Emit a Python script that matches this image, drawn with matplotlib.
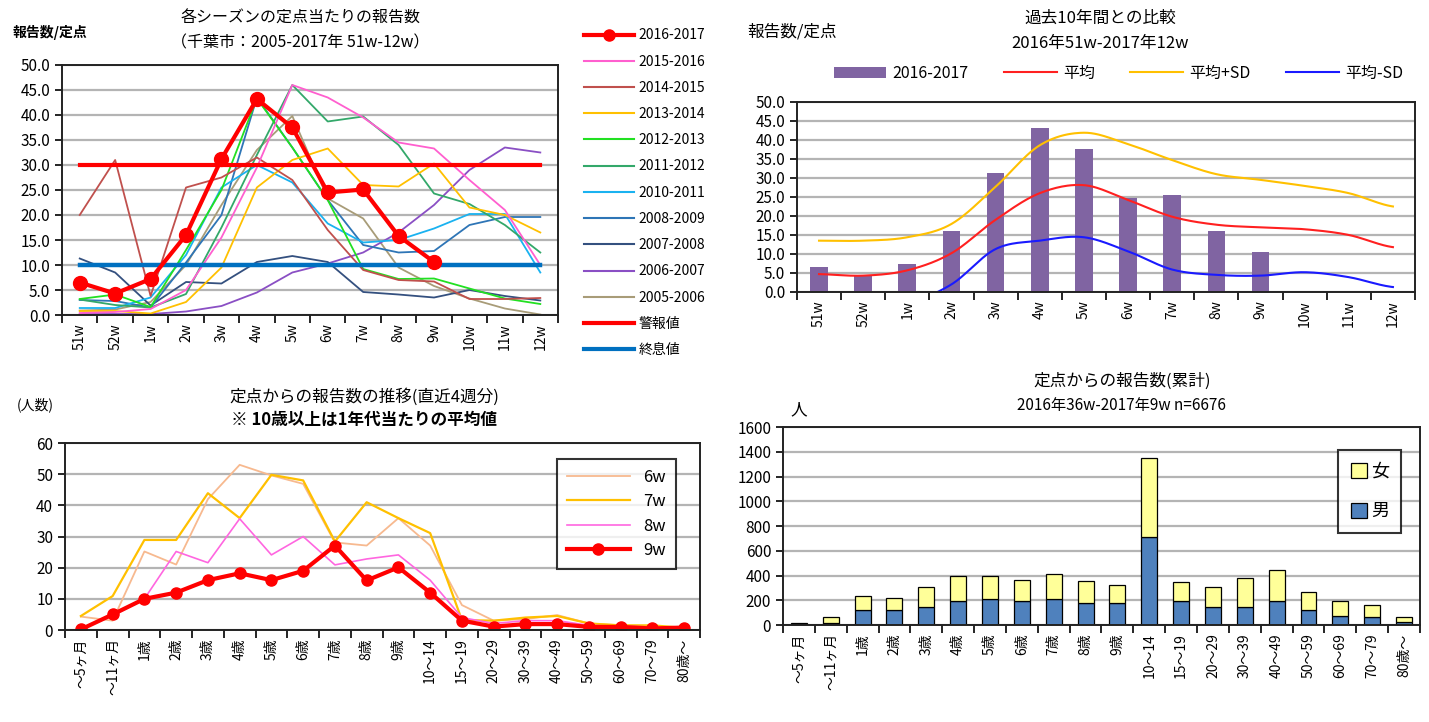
import numpy as np
import matplotlib
matplotlib.use('Agg')
import matplotlib.pyplot as plt
from matplotlib.lines import Line2D
from matplotlib.patches import Patch

plt.rcParams['font.family'] = ['Noto Sans CJK JP', 'DejaVu Sans']

weeks = ['51w', '52w', '1w', '2w', '3w', '4w', '5w', '6w', '7w', '8w', '9w', '10w', '11w', '12w']
nan = np.nan

# seasons (top left)
s2016 = [6.5, 4.3, 7.2, 16.0, 31.2, 43.2, 37.5, 24.5, 25.1, 15.8, 10.6, nan, nan, nan]
s2015 = [0.4, 0.6, 1.2, 5.0, 15.5, 29.5, 46.0, 43.5, 39.5, 34.5, 33.3, 27.0, 21.0, 10.0]
s2014 = [20.0, 31.0, 3.8, 25.5, 27.5, 31.5, 27.0, 17.0, 9.0, 7.0, 6.7, 3.2, 3.2, 3.4]
s2013 = [0.8, 0.8, 0.3, 2.6, 9.5, 25.5, 31.0, 33.3, 26.0, 25.7, 30.3, 21.5, 20.0, 16.5]
s2012 = [3.2, 4.1, 1.6, 13.0, 25.0, 43.3, 33.5, 23.0, 9.2, 7.2, 7.3, 5.3, 3.3, 2.2]
s2011 = [3.1, 2.0, 1.5, 4.2, 17.5, 32.0, 46.0, 38.7, 39.7, 34.0, 24.3, 22.2, 18.0, 12.5]
s2010 = [1.4, 1.4, 3.5, 12.0, 25.5, 30.0, 26.5, 18.3, 14.5, 15.0, 17.3, 20.2, 20.2, 8.5]
s2008 = [3.0, 2.8, 1.5, 10.5, 20.0, 43.5, 33.5, 23.0, 14.0, 12.5, 12.8, 18.0, 19.6, 19.6]
s2007 = [11.3, 8.5, 1.9, 6.6, 6.3, 10.6, 11.8, 10.6, 4.6, 4.1, 3.5, 5.0, 3.8, 2.9]
s2006 = [0.2, 0.2, 0.2, 0.7, 1.8, 4.5, 8.5, 10.3, 12.5, 16.5, 22.0, 29.0, 33.5, 32.5]
s2005 = [0.9, 1.1, 2.6, 10.0, 22.0, 33.0, 39.8, 23.3, 19.3, 9.5, 5.8, 3.3, 1.3, 0.1]
alarm_level = 30.0
end_level = 10.0

# comparison with past 10 years (top right)
bar2016 = [6.7, 4.3, 7.3, 16.0, 31.3, 43.2, 37.5, 24.6, 25.5, 16.0, 10.6, nan, nan, nan]
mean10 = [4.7, 4.3, 5.7, 10.2, 19.0, 26.0, 28.1, 24.2, 19.8, 17.7, 17.0, 16.5, 15.0, 11.8]
mean_plus = [13.5, 13.5, 14.4, 17.9, 27.7, 38.6, 41.9, 38.9, 34.7, 31.0, 29.5, 27.9, 26.0, 22.5]
mean_minus = [-4.0, -4.8, -3.0, 2.0, 11.3, 13.5, 14.4, 10.7, 5.9, 4.5, 4.3, 5.2, 3.9, 1.3]

# by age, last 4 weeks (bottom left)
ages = ['～5ヶ月', '～11ヶ月', '1歳', '2歳', '3歳', '4歳', '5歳', '6歳', '7歳', '8歳', '9歳',
        '10～14', '15～19', '20～29', '30～39', '40～49', '50～59', '60～69', '70～79', '80歳～']
w6 = [4.3, 3.0, 25.2, 21.0, 42.0, 53.0, 49.6, 46.9, 28.1, 27.1, 35.9, 27.1, 8.0, 3.0, 3.5, 4.8, 2.1, 1.5, 1.2, 0.7]
w7 = [4.5, 10.9, 28.9, 28.9, 43.9, 35.9, 49.8, 48.0, 28.4, 41.0, 35.9, 31.1, 3.2, 3.0, 4.0, 4.5, 2.1, 1.5, 1.5, 0.7]
w8 = [0.5, 4.5, 10.0, 25.2, 21.6, 35.7, 24.1, 30.0, 20.9, 22.8, 24.1, 16.0, 4.0, 2.1, 3.0, 3.0, 1.5, 1.2, 1.0, 0.7]
w9 = [0.2, 5.0, 10.0, 12.0, 16.0, 18.2, 16.0, 19.0, 27.1, 15.9, 20.1, 12.0, 3.0, 1.1, 1.9, 1.9, 1.0, 1.0, 0.5, 0.8]

# cumulative by sex (bottom right)
male = [10, 20, 121, 121, 148, 191, 207, 194, 207, 177, 177, 715, 194, 148, 148, 194, 121, 75, 62, 27]
total = [14, 62, 237, 220, 309, 398, 398, 368, 414, 355, 325, 1350, 344, 309, 384, 444, 269, 194, 164, 62]
female = [t - m for t, m in zip(total, male)]


def smooth(y, n=24):
    # Catmull-Rom curve through the points (like Excel smoothed lines)
    y = np.asarray(y, dtype=float)
    p = np.concatenate([[y[0]], y, [y[-1]]])
    xs, ys = [], []
    t = np.linspace(0, 1, n, endpoint=False)
    for i in range(len(y) - 1):
        p0, p1, p2, p3 = p[i], p[i + 1], p[i + 2], p[i + 3]
        ys.append(0.5 * (2 * p1 + (-p0 + p2) * t + (2 * p0 - 5 * p1 + 4 * p2 - p3) * t ** 2
                         + (-p0 + 3 * p1 - 3 * p2 + p3) * t ** 3))
        xs.append(i + t)
    xs.append([len(y) - 1])
    ys.append([y[-1]])
    return np.concatenate(xs), np.concatenate(ys)


def excel_axes(ax, n, labels, fs=10):
    ax.set_xlim(-0.5, n - 0.5)
    ax.set_xticks(range(n))
    ax.set_xticklabels(labels, rotation=90, fontsize=fs)
    ax.set_xticks(np.arange(-0.5, n), minor=True)
    ax.tick_params(axis='x', which='major', length=0, pad=6)
    ax.tick_params(axis='x', which='minor', length=6, width=1.2, direction='out')
    ax.tick_params(axis='y', length=5, width=1.2, direction='out', labelsize=fs + 1)
    ax.yaxis.grid(True, color='#b4b4b4', linewidth=1.6)
    ax.set_axisbelow(True)
    for sp in ax.spines.values():
        sp.set_linewidth(1.4)
        sp.set_color('#222222')


fig = plt.figure(figsize=(14.29, 7.22), dpi=100)

# ---------- top left ----------
ax1 = fig.add_axes([0.0434, 0.5637, 0.3471, 0.3463])
x = np.arange(len(weeks))
series = [
    ('2015-2016', s2015, '#ff5fcf'),
    ('2014-2015', s2014, '#c0504d'),
    ('2013-2014', s2013, '#ffc000'),
    ('2012-2013', s2012, '#22e022'),
    ('2011-2012', s2011, '#33a86a'),
    ('2010-2011', s2010, '#1ab2f0'),
    ('2008-2009', s2008, '#2e75b6'),
    ('2007-2008', s2007, '#34507f'),
    ('2006-2007', s2006, '#8a4fc4'),
    ('2005-2006', s2005, '#a89c78'),
]
handles = []
for name, vals, col in series[::-1]:
    ax1.plot(x, vals, color=col, lw=1.3)
ax1.plot(x, [alarm_level] * len(x), color='#ff0000', lw=3)
ax1.plot(x, [end_level] * len(x), color='#0070c0', lw=3.2)
ax1.plot(x, s2016, color='#ff0000', lw=3, marker='o', ms=10)
handles.append(Line2D([], [], color='#ff0000', lw=3, marker='o', ms=8, label='2016-2017'))
for name, vals, col in series:
    handles.append(Line2D([], [], color=col, lw=1.5, label=name))
handles.append(Line2D([], [], color='#ff0000', lw=3, label='警報値'))
handles.append(Line2D([], [], color='#0070c0', lw=3, label='終息値'))
ax1.set_ylim(0, 50)
ax1.set_yticks(np.arange(0, 51, 5))
ax1.set_yticklabels(['%.1f' % v for v in np.arange(0, 51, 5)])
excel_axes(ax1, len(weeks), weeks)
fig.legend(handles=handles, loc='upper left', bbox_to_anchor=(0.400, 0.978), frameon=False,
           fontsize=10, handlelength=3.6, labelspacing=0.88, handletextpad=0.3)
fig.text(0.21, 0.975, '各シーズンの定点当たりの報告数', ha='center', va='center', fontsize=11.5)
fig.text(0.21, 0.940, '（千葉市：2005-2017年 51w-12w）', ha='center', va='center', fontsize=11.5)
fig.text(0.009, 0.955, '報告数/定点', ha='left', va='center', fontsize=10, fontweight='bold')

# ---------- top right ----------
ax2 = fig.add_axes([0.5577, 0.5956, 0.4325, 0.2632])
hb = ax2.bar(x, bar2016, width=0.4, color='#8064a2', label='2016-2017')
lines2 = []
for vals, col, name in [(mean10, '#ff2020', '平均'), (mean_plus, '#ffc000', '平均+SD'),
                        (mean_minus, '#1a1aff', '平均-SD')]:
    sx, sy = smooth(vals)
    lines2.append(ax2.plot(sx, sy, color=col, lw=1.5, label=name)[0])
ax2.set_ylim(0, 50)
ax2.set_yticks(np.arange(0, 51, 5))
ax2.set_yticklabels(['%.1f' % v for v in np.arange(0, 51, 5)])
excel_axes(ax2, len(weeks), weeks)
ax2.legend([hb] + lines2, ['2016-2017', '平均', '平均+SD', '平均-SD'], loc='lower center',
           bbox_to_anchor=(0.52, 1.03), ncol=4, frameon=False, fontsize=11.5,
           handlelength=3.3, columnspacing=2.2, handletextpad=0.4)
fig.text(0.77, 0.975, '過去10年間との比較', ha='center', va='center', fontsize=12)
fig.text(0.77, 0.940, '2016年51w-2017年12w', ha='center', va='center', fontsize=12)
fig.text(0.523, 0.955, '報告数/定点', ha='left', va='center', fontsize=12)

# ---------- bottom left ----------
ax3 = fig.add_axes([0.0455, 0.1274, 0.4444, 0.2590])
xa = np.arange(len(ages))
ax3.plot(xa, w6, color='#f7b98f', lw=1.3, label='6w')
ax3.plot(xa, w7, color='#ffc000', lw=1.6, label='7w')
ax3.plot(xa, w8, color='#ff66e0', lw=1.2, label='8w')
ax3.plot(xa, w9, color='#ff0000', lw=3, marker='o', ms=8, label='9w')
ax3.set_ylim(0, 60)
ax3.set_yticks(np.arange(0, 61, 10))
excel_axes(ax3, len(ages), ages)
leg3 = ax3.legend(loc='upper right', bbox_to_anchor=(0.975, 0.96), fontsize=12, fancybox=False,
                  edgecolor='black', handlelength=3.8, labelspacing=0.45, borderpad=0.6)
leg3.get_frame().set_linewidth(1.5)
fig.text(0.255, 0.450, '定点からの報告数の推移(直近4週分)', ha='center', va='center', fontsize=12)
fig.text(0.255, 0.418, '※ 10歳以上は1年代当たりの平均値', ha='center', va='center', fontsize=12,
         fontweight='bold')
fig.text(0.012, 0.439, '(人数)', ha='left', va='center', fontsize=10)

# ---------- bottom right ----------
ax4 = fig.add_axes([0.5479, 0.1343, 0.4458, 0.2742])
ax4.bar(xa, male, width=0.5, color='#4f81bd', edgecolor='black', lw=0.9, label='男')
ax4.bar(xa, female, width=0.5, bottom=male, color='#ffff99', edgecolor='black', lw=0.9, label='女')
ax4.set_ylim(0, 1600)
ax4.set_yticks(np.arange(0, 1601, 200))
excel_axes(ax4, len(ages), ages, fs=10)
h, l = ax4.get_legend_handles_labels()
leg4 = ax4.legend(h[::-1], l[::-1], loc='upper right', bbox_to_anchor=(0.985, 0.93), fontsize=13,
                  fancybox=False, edgecolor='black', handlelength=0.9, handleheight=0.9,
                  labelspacing=1.2, borderpad=0.7, handletextpad=0.2)
leg4.get_frame().set_linewidth(1.5)
fig.text(0.785, 0.472, '定点からの報告数(累計)', ha='center', va='center', fontsize=12)
fig.text(0.785, 0.439, '2016年36w-2017年9w n=6676', ha='center', va='center', fontsize=11)
fig.text(0.553, 0.432, '人', ha='left', va='center', fontsize=12)

fig.savefig('out.png', dpi=100, facecolor='white')
